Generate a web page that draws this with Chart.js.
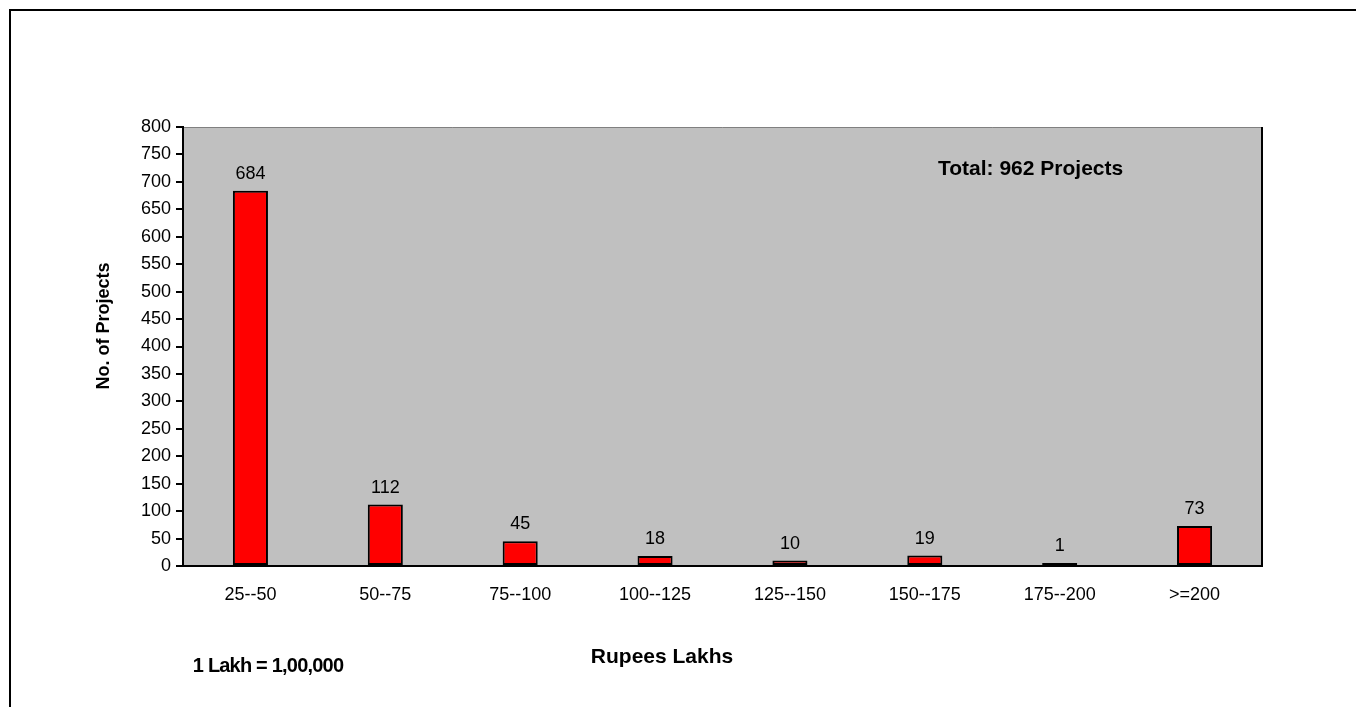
<!DOCTYPE html>
<html>
<head>
<meta charset="utf-8">
<script src="https://cdn.jsdelivr.net/npm/chart.js@4.4.1/dist/chart.umd.min.js"></script>
<style>
  html, body { margin: 0; padding: 0; background: #fff; }
  canvas { display: block; }
</style>
</head>
<body>
<canvas id="projChart" width="1356" height="707"></canvas>
<script>
const categories = ['25--50', '50--75', '75--100', '100--125', '125--150', '150--175', '175--200', '>=200'];
const projectCounts = [684, 112, 45, 18, 10, 19, 1, 73];
const yMin = 0, yMax = 800, yStep = 50;

const FONT = '"Liberation Sans", Arial, sans-serif';

// frame, plot background and free texts
const decor = {
    id: 'decor',
    beforeDraw(chart) {
        const ctx = chart.ctx;
        const a = chart.chartArea;
        ctx.save();
        ctx.fillStyle = '#C0C0C0';
        ctx.fillRect(a.left, a.top, a.right - a.left, a.bottom - a.top);
        ctx.strokeStyle = '#808080';
        ctx.lineWidth = 1;
        ctx.beginPath();
        ctx.moveTo(a.left, a.top + 0.5);
        ctx.lineTo(a.right, a.top + 0.5);
        ctx.stroke();
        ctx.strokeStyle = '#000';
        ctx.lineWidth = 2;
        ctx.beginPath();
        ctx.moveTo(a.right, a.top);
        ctx.lineTo(a.right, a.bottom);
        ctx.stroke();
        // outer frame
        ctx.beginPath();
        ctx.moveTo(10, 707);
        ctx.lineTo(10, 10);
        ctx.lineTo(1356, 10);
        ctx.stroke();
        ctx.restore();
    },
    afterDraw(chart) {
        const ctx = chart.ctx;
        ctx.save();
        ctx.fillStyle = '#000';
        ctx.font = 'bold 21px ' + FONT;
        ctx.textAlign = 'left';
        ctx.textBaseline = 'alphabetic';
        ctx.fillText('Total: 962 Projects', 938, 175);

        ctx.textAlign = 'center';
        ctx.fillText('Rupees Lakhs', 662, 663);

        ctx.font = 'bold 20px ' + FONT;
        ctx.letterSpacing = '-0.8px';
        ctx.fillText('1 Lakh = 1,00,000', 268, 672);
        ctx.letterSpacing = '0px';

        ctx.font = 'bold 18px ' + FONT;
        ctx.translate(104.5, 326);
        ctx.rotate(-Math.PI / 2);
        ctx.textBaseline = 'middle';
        ctx.fillText('No. of Projects', 0, 0);
        ctx.restore();
    }
};

// value above each bar
const barValues = {
    id: 'barValues',
    afterDatasetsDraw(chart) {
        const ctx = chart.ctx;
        const meta = chart.getDatasetMeta(0);
        ctx.save();
        ctx.fillStyle = '#000';
        ctx.font = '18px ' + FONT;
        ctx.textAlign = 'center';
        ctx.textBaseline = 'alphabetic';
        meta.data.forEach((bar, i) => {
            ctx.fillText(String(projectCounts[i]), bar.x, bar.y - 12);
        });
        ctx.restore();
    }
};

new Chart(document.getElementById('projChart'), {
    type: 'bar',
    data: {
        labels: categories,
        datasets: [{
            label: 'No. of Projects',
            data: projectCounts,
            backgroundColor: '#FF0000',
            borderColor: '#000000',
            borderWidth: 2,
            borderSkipped: false,
            minBarLength: 3,
            categoryPercentage: 1,
            barPercentage: 0.26
        }]
    },
    options: {
        responsive: false,
        devicePixelRatio: 1,
        animation: false,
        layout: { padding: { top: 127, right: 94, left: 0, bottom: 0 } },
        plugins: {
            legend: { display: false },
            tooltip: { enabled: false }
        },
        scales: {
            x: {
                grid: { display: false, drawTicks: false },
                border: { display: true, color: '#000', width: 2 },
                ticks: { color: '#000', font: { family: FONT, size: 18 }, padding: 18, maxRotation: 0 },
                afterFit(scale) { scale.height = 141; }
            },
            y: {
                min: yMin,
                max: yMax,
                grid: { drawOnChartArea: false, drawTicks: true, tickLength: 7, color: '#000', lineWidth: 2 },
                border: { display: true, color: '#000', width: 2 },
                ticks: { stepSize: yStep, color: '#000', font: { family: FONT, size: 18 }, padding: 5 },
                afterFit(scale) { scale.width = 183; }
            }
        }
    },
    plugins: [decor, barValues]
});
</script>
</body>
</html>
